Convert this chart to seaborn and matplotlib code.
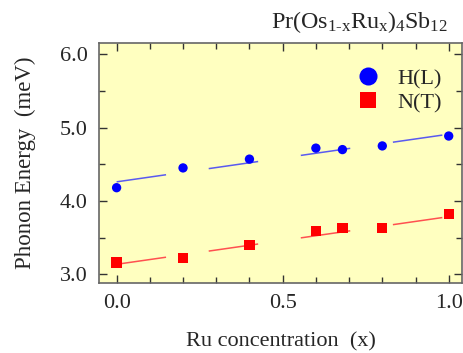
import numpy as np
import pandas as pd
import matplotlib
matplotlib.use("Agg")
import matplotlib.pyplot as plt
import seaborn as sns
from matplotlib.ticker import MultipleLocator
from matplotlib.lines import Line2D

# Data
x_ru = [0.0, 0.2, 0.4, 0.6, 0.68, 0.8, 1.0]
e_HL = [4.18, 4.45, 4.57, 4.72, 4.70, 4.75, 4.885]
e_NT = [3.16, 3.22, 3.40, 3.59, 3.63, 3.63, 3.82]
fit_x = [0.0, 1.0]
fit_HL = [4.26, 4.91]
fit_NT = [3.135, 3.785]
series_names = ["H(L)", "N(T)"]

sns.set_theme(style="ticks")
plt.rcParams['font.family'] = ['Liberation Serif', 'DejaVu Serif']
plt.rcParams['mathtext.fontset'] = 'custom'
plt.rcParams['mathtext.rm'] = 'Liberation Serif'
plt.rcParams['mathtext.it'] = 'Liberation Serif'

fig = plt.figure(figsize=(4.64, 3.53), dpi=100)
ax = fig.add_axes([99/464, 1 - 283/353, (462-99)/464, (283-43)/353])
ax.set_facecolor('#ffffc0')

df_h = pd.DataFrame({"x": x_ru, "E": e_HL})
df_n = pd.DataFrame({"x": x_ru, "E": e_NT})

# fit lines (long dashes)
l1, = ax.plot(fit_x, fit_HL, color='#5a5af0', lw=1.1, zorder=2)
l1.set_dashes((32.7, 28.2))
l2, = ax.plot(fit_x, fit_NT, color='#ff5050', lw=1.1, zorder=2)
l2.set_dashes((32.7, 28.2))

sns.scatterplot(data=df_h, x="x", y="E", ax=ax, color='#0000ff', marker='o',
                s=45, edgecolor='none', zorder=3)
sns.scatterplot(data=df_n, x="x", y="E", ax=ax, color='#ff0000', marker='s',
                s=55, edgecolor='none', zorder=3)

ax.set_xlim(-0.053, 1.04)
ax.set_ylim(2.88, 6.154)
ax.xaxis.set_major_locator(MultipleLocator(0.5))
ax.xaxis.set_minor_locator(MultipleLocator(0.1))
ax.yaxis.set_major_locator(MultipleLocator(1.0))
ax.yaxis.set_minor_locator(MultipleLocator(0.5))
ax.xaxis.set_major_formatter(plt.FormatStrFormatter('%.1f'))
ax.yaxis.set_major_formatter(plt.FormatStrFormatter('%.1f'))
ax.tick_params(which='both', direction='in', top=True, right=True, color='#333333', width=1)
ax.tick_params(which='major', length=6, labelsize=16, pad=8)
ax.tick_params(which='minor', length=4)
for sp in ax.spines.values():
    sp.set_color('#666666')
    sp.set_linewidth(1.2)

ax.set_xlabel("Ru concentration  (x)", fontsize=16, labelpad=14)
ax.set_ylabel("Phonon Energy  (meV)", fontsize=16.5, labelpad=17)
title = r"Pr(Os$_{\mathregular{1\text{-}x}}$Ru$_{\mathregular{x}}$)$_{\mathregular{4}}$Sb$_{\mathregular{12}}$"
ax.text(0.96, 1.035, title, transform=ax.transAxes, ha='right', va='bottom', fontsize=17.3)

# legend
handles = [Line2D([], [], marker='o', color='#0000ff', ls='none', markersize=13, markeredgewidth=0),
           Line2D([], [], marker='s', color='#ff0000', ls='none', markersize=12, markeredgewidth=0)]
ax.legend(handles, series_names, loc='upper right', bbox_to_anchor=(0.97, 0.93),
          frameon=False, fontsize=16, handletextpad=0.35, labelspacing=0.15, borderaxespad=0)

fig.savefig("out.png", dpi=100)
